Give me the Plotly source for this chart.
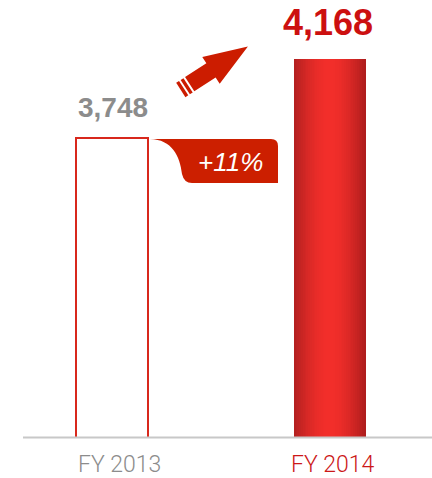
import math
import plotly.graph_objects as go

# Revenue by fiscal year
years = ["FY 2013", "FY 2014"]
revenue = [3748, 4168]
value_labels = ["3,748", "4,168"]
growth_label = "+11%"

W, H = 432, 478


def px(x):
    return x / W


def py(y):
    return 1 - y / H


def path_px(cmds):
    """Build an SVG path in paper units from (command, [x, y, ...]) pairs given in pixels."""
    out = []
    for cmd, pts in cmds:
        coords = []
        for i in range(0, len(pts), 2):
            coords.append(f"{px(pts[i]):.5f},{py(pts[i + 1]):.5f}")
        out.append(cmd + " ".join(coords))
    return " ".join(out) + " Z"


fig = go.Figure()

# FY 2013: outlined bar
fig.add_trace(go.Bar(
    x=[0], y=[revenue[0]], width=[0.331],
    marker=dict(color="white", line=dict(color="#D8281C", width=2)),
    hoverinfo="skip", showlegend=False,
))

# FY 2014: solid bar with a horizontal cylinder-like shading, built from thin slices
n_slices = 40
bar_w = 0.33
slice_w = bar_w / n_slices
stops = [(0.0, (178, 32, 32)), (0.5, (242, 46, 42)), (1.0, (172, 28, 28))]


def shade(t):
    for (t0, c0), (t1, c1) in zip(stops[:-1], stops[1:]):
        if t <= t1:
            f = (t - t0) / (t1 - t0)
            f = math.sin(f * math.pi / 2) if t0 == 0 else 1 - math.cos(f * math.pi / 2)
            c = [round(a + (b - a) * f) for a, b in zip(c0, c1)]
            return f"rgb({c[0]},{c[1]},{c[2]})"
    return "rgb(172,28,28)"


xs = [1 - bar_w / 2 + (i + 0.5) * slice_w for i in range(n_slices)]
cols = [shade((i + 0.5) / n_slices) for i in range(n_slices)]
fig.add_trace(go.Bar(
    x=xs, y=[revenue[1]] * n_slices, width=slice_w * 1.15,
    marker=dict(color=cols, line=dict(width=0)),
    hoverinfo="skip", showlegend=False,
))

# Value labels above the bars
fig.add_annotation(x=0, y=revenue[0], text=f"<b>{value_labels[0]}</b>",
                   showarrow=False, yanchor="middle", yshift=31, xshift=1,
                   font=dict(family="Liberation Sans, Arial", size=28, color="#8C8C8C"))
fig.add_annotation(x=1, y=revenue[1], text=f"<b>{value_labels[1]}</b>",
                   showarrow=False, yanchor="middle", yshift=37, xshift=-2.5,
                   font=dict(family="Liberation Sans, Arial", size=36, color="#CC1010"))

# Category labels
label_colors = ["#8C8C8C", "#CC1818"]
label_x = [119.5, 333]
for name, col, lx in zip(years, label_colors, label_x):
    fig.add_annotation(x=px(lx), y=py(464.5), xref="paper", yref="paper",
                       text=name, showarrow=False, xanchor="center", yanchor="middle",
                       font=dict(family="Roboto, Liberation Sans", size=23, color=col,
                                 weight=300))

# Growth arrow with striped tail
ang = math.radians(33)
d = (math.cos(ang), -math.sin(ang))
nrm = (math.sin(ang), math.cos(ang))
tail = (180.8, 90.0)


def pt(u, v):
    return [tail[0] + u * d[0] + v * nrm[0], tail[1] + u * d[1] + v * nrm[1]]


hw, hh, head_u, tip_u = 8.5, 16.0, 36.0, 80.0
arrow_col = "#CC1C00"
body = [("M", pt(10.6, -hw)), ("L", pt(head_u, -hw)), ("L", pt(head_u, -hh)),
        ("L", pt(tip_u, 0)), ("L", pt(head_u, hh)), ("L", pt(head_u, hw)),
        ("L", pt(10.6, hw))]
fig.add_shape(type="path", xref="paper", yref="paper", path=path_px(body),
              fillcolor=arrow_col, line=dict(width=0), layer="above")
for u0, u1 in [(0.0, 3.4), (5.3, 8.7)]:
    stripe = [("M", pt(u0, -hw)), ("L", pt(u1, -hw)), ("L", pt(u1, hw)), ("L", pt(u0, hw))]
    fig.add_shape(type="path", xref="paper", yref="paper", path=path_px(stripe),
                  fillcolor=arrow_col, line=dict(width=0), layer="above")

# Growth callout tab
tab = [("M", [150, 139]), ("L", [271, 139]), ("Q", [278, 139, 278, 146]),
       ("L", [278, 183]), ("L", [192, 183]), ("Q", [184, 183, 182, 174]),
       ("C", [180, 156, 172, 139.5, 150, 139])]
fig.add_shape(type="path", xref="paper", yref="paper", path=path_px(tab),
              fillcolor="#CC1F00", line=dict(width=0), layer="above")
fig.add_annotation(x=px(230), y=py(162), xref="paper", yref="paper",
                   text=f"<i>{growth_label}</i>", showarrow=False,
                   xanchor="center", yanchor="middle",
                   font=dict(family="Liberation Sans, Arial", size=26, color="white"))

# Baseline
fig.add_shape(type="line", xref="paper", yref="paper",
              x0=px(23), x1=px(432), y0=py(437.5), y1=py(437.5),
              line=dict(color="#C8C8C8", width=2), layer="above")

bottom = 40.5 / H
fig.update_layout(
    width=W, height=H, margin=dict(l=0, r=0, t=0, b=0),
    paper_bgcolor="white", plot_bgcolor="white",
    barmode="overlay", bargap=0,
    xaxis=dict(domain=[0, 1], range=[-111.85 / 218.15, (W - 111.85) / 218.15],
               visible=False, fixedrange=True),
    yaxis=dict(domain=[bottom, 1], range=[2163.3, 4480.5], visible=False, fixedrange=True),
)

fig.write_html("out.html")
